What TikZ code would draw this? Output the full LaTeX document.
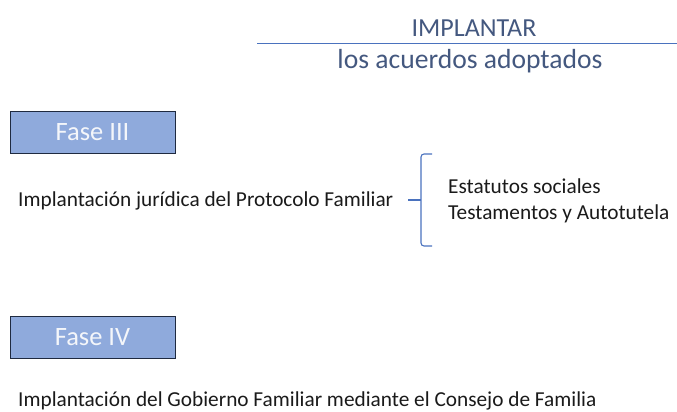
\documentclass[tikz,border=0pt]{standalone}
\usepackage{fontspec}
\setmainfont{Carlito}
\definecolor{headc}{HTML}{44587F}
\definecolor{linec}{HTML}{4A72BE}
\definecolor{boxfill}{HTML}{8FAADC}
\definecolor{boxdraw}{HTML}{1F2A40}
\definecolor{boxtext}{HTML}{F4F6FA}
\definecolor{bodyc}{HTML}{1A1A1A}
\begin{document}
\begin{tikzpicture}[x=1pt,y=-1pt,
  head/.style={font=\fontsize{26}{30}\selectfont, text=headc, inner sep=0pt, anchor=base},
  fasebox/.style={draw=boxdraw, line width=1pt, fill=boxfill, text=boxtext,
    font=\fontsize{26.5}{30}\selectfont, minimum width=165pt, minimum height=42pt, inner sep=0pt},
  body/.style={font=\fontsize{21.3}{25}\selectfont, text=bodyc, inner sep=0pt, anchor=base west},
  bracket/.style={draw=linec, line width=1.1pt}]
\useasboundingbox (0,0) rectangle (677,412);
% header
\node[head] (t1) at (474,37) {IMPLANTAR};
\coordinate (l1) at (257,44);
\coordinate (l2) at (677,44);
\draw[draw=linec, line width=1pt] (l1) -- (l2);
\node[head, font=\fontsize{27.6}{30}\selectfont] (t2) at (470,69) {los acuerdos adoptados};
% Fase III
\node[fasebox] (f3) at (92.5,132.5) {Fase III};
\node[body] (p3) at (18,206) {Implantación jurídica del Protocolo Familiar};
\coordinate (btop) at (432,154);
\coordinate (bbot) at (432,246);
\coordinate (bmid) at (421,200);
\draw[bracket, rounded corners=3pt] (btop) -| (bmid) |- (bbot);
\draw[bracket] ([xshift=15pt]p3.east |- bmid) -- (bmid);
\node[body] (e1) at (448,193) {Estatutos sociales};
\node[body] (e2) at (448,219) {Testamentos y Autotutela};
% Fase IV
\node[fasebox] (f4) at (92.5,337.5) {Fase IV};
\node[body] (p4) at (18,406) {Implantación del Gobierno Familiar mediante el Consejo de Familia};
\end{tikzpicture}
\end{document}
